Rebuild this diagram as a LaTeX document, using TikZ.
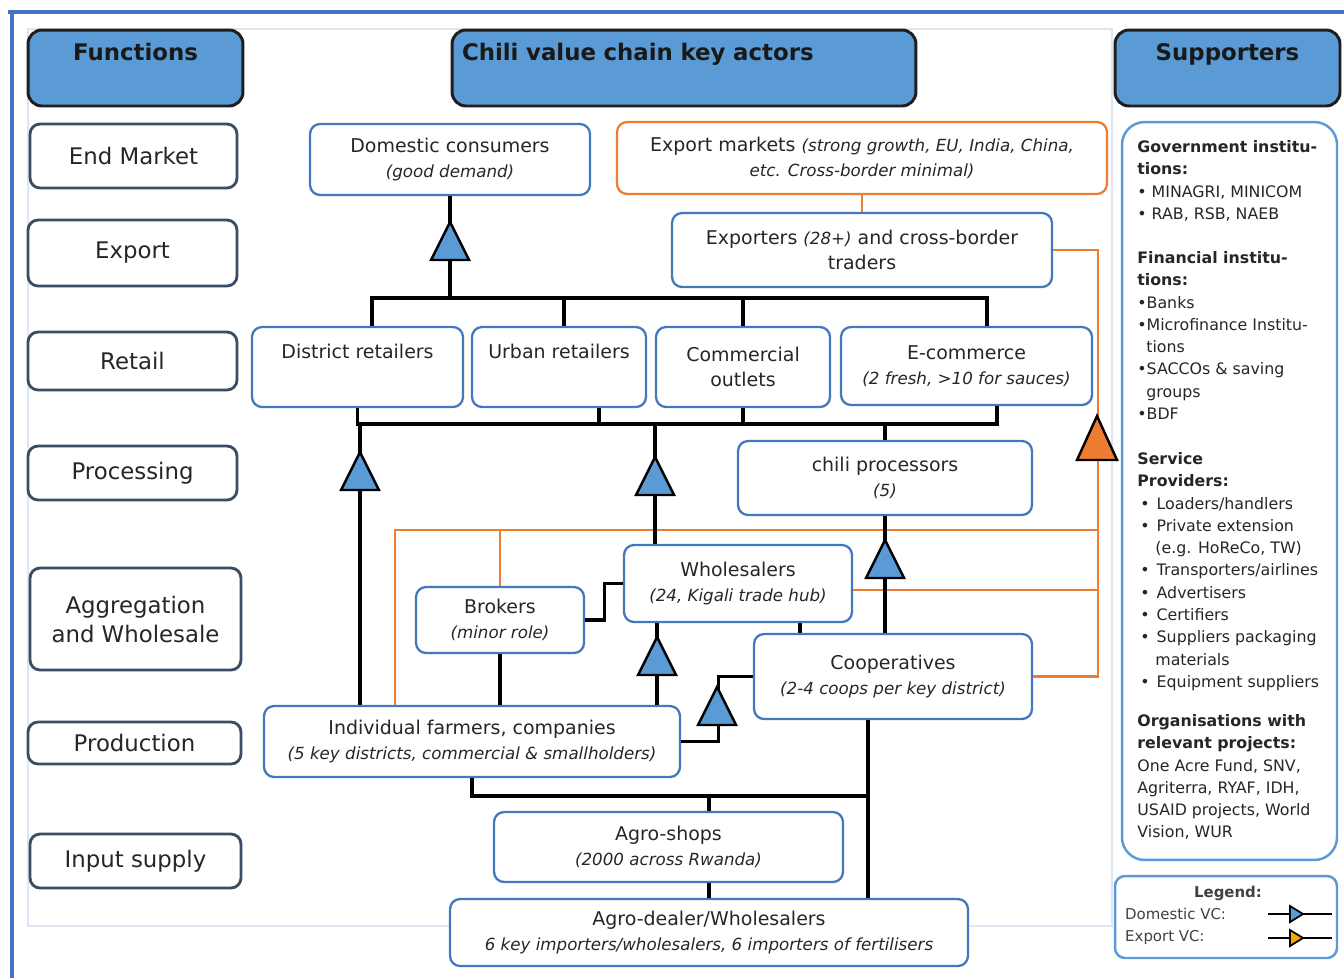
\documentclass[tikz,border=0pt]{standalone}
\usepackage{fontspec}
\setmainfont{DejaVu Sans}
\usepackage{xcolor}
\usepackage{tikz}
\usetikzlibrary{positioning,calc}
\definecolor{hdrfill}{HTML}{5B9BD5}
\definecolor{hdrline}{HTML}{1E1E1E}
\definecolor{fnline}{HTML}{3A4D66}
\definecolor{actline}{HTML}{4178BE}
\definecolor{expline}{HTML}{ED7D31}
\definecolor{trifill}{HTML}{5B9BD5}
\definecolor{suppline}{HTML}{5B9BD5}
\definecolor{framecol}{HTML}{4472C4}
\definecolor{faintcol}{HTML}{DDE6F2}
\definecolor{goldfill}{HTML}{F2A900}
\definecolor{txt}{HTML}{262626}
\newcommand{\actnote}[1]{{\fontsize{9.5}{14}\selectfont\itshape #1}}
\newcommand{\sbul}{\hspace*{0.06cm}•\hspace{0.14cm}}
\newcommand{\sind}{\hspace*{0.36cm}}

\begin{document}
\begin{tikzpicture}[x=0.02cm,y=-0.02cm,font=\fontsize{10.8}{14}\selectfont,text=txt,
  hdr/.style={draw=hdrline,fill=hdrfill,line width=1.7pt,rounded corners=0.28cm,minimum height=1.52cm,
    font=\fontsize{13}{15}\selectfont\bfseries,text=black!90,text height=9pt,text depth=17.6pt},
  fn/.style={draw=fnline,fill=white,line width=1.6pt,rounded corners=0.2cm,align=center,font=\fontsize{13}{16.5}\selectfont},
  act/.style={draw=actline,fill=white,line width=1.3pt,rounded corners=0.2cm,align=center},
  supbox/.style={draw=suppline,fill=white,line width=1.4pt,rounded corners=0.45cm},
  supt/.style={anchor=north west,align=left,inner sep=0pt,font=\fontsize{9}{12.7}\selectfont},
  legt/.style={font=\fontsize{8.5}{10}\selectfont,text=black!75},
  ln/.style={line width=1.8pt,black},
  orln/.style={line width=1.5pt,expline},
  tri/.style={draw=black,fill=trifill,line width=1.4pt,line join=miter},
  outerframe/.style={draw=framecol,line width=2pt},
  innerframe/.style={draw=faintcol,line width=0.6pt}]
\useasboundingbox (0,0) rectangle (1344,978);
\draw[outerframe] (8,12) -- (1344,12) (12,12) -- (12,978);
\draw[innerframe] (28,29) rectangle (1112,926);
\node[hdr,minimum width=4.3cm] (hfun) at (135.5,68) {Functions};
\node[hdr,text width=8.88cm,align=left,inner xsep=0.2cm] (hact) at (684,68) {Chili value chain key actors};
\node[hdr,minimum width=4.5cm] (hsup) at (1227.5,68) {Supporters};
\foreach \n/\t/\x/\y/\w/\h in {fem/{End Market}/133.5/156/4.14/1.28, fexp/{Export}/132.5/253/4.18/1.32,
  fret/{Retail}/132.5/361/4.18/1.16, fproc/{Processing}/132.5/473/4.18/1.08,
  fagg/{Aggregation\\and Wholesale}/135.5/619/4.22/2.04, fprod/{Production}/134.5/743/4.26/0.84,
  finp/{Input supply}/135.5/861/4.22/1.08}
  \node[fn,minimum width=\w cm,minimum height=\h cm] (\n) at (\x,\y) {\t};
\node[act,draw=expline,minimum width=9.8cm,minimum height=1.44cm] (expm) at (862,158)
  {Export markets \actnote{(strong growth, EU, India, China,}\\\actnote{etc. Cross-border minimal)}};
\foreach \n/\t/\x/\y/\w/\h in {dom/{Domestic consumers\\\actnote{(good demand)}}/450/159.5/5.6/1.42,
  expt/{Exporters \actnote{(28+)} and cross-border\\traders}/862/250/7.6/1.48,
  dret/{District retailers\\\strut}/357.5/367/4.22/1.6, uret/{Urban retailers\\\strut}/559/367/3.48/1.6,
  comm/{Commercial\\outlets}/743/367/3.48/1.6, ecom/{E-commerce\\\actnote{(2 fresh, >10 for sauces)}}/966.5/366/5.02/1.56,
  proc/{chili processors\\\actnote{(5)}}/885/478/5.88/1.48,
  whol/{Wholesalers\\\actnote{(24, Kigali trade hub)}}/738/583.5/4.56/1.54,
  brok/{Brokers\\\actnote{(minor role)}}/500/620/3.36/1.32,
  coop/{Cooperatives\\\actnote{(2-4 coops per key district)}}/893/676.5/5.56/1.7,
  farm/{Individual farmers, companies\\\actnote{(5 key districts, commercial \& smallholders)}}/472/741.5/8.32/1.42,
  shop/{Agro-shops\\\actnote{(2000 across Rwanda)}}/668.5/847/6.98/1.4,
  dealer/{Agro-dealer/Wholesalers\\\actnote{6 key importers/wholesalers, 6 importers of fertilisers}}/709/932.5/10.36/1.34}
  \node[act,minimum width=\w cm,minimum height=\h cm] (\n) at (\x,\y) {\t};
\node[supbox,minimum width=4.3cm,minimum height=14.76cm] (supp) at (1229.5,491) {};
\node[supt] (gov) at (1137,140) {\textbf{Government institu-}\\\textbf{tions:}\\• MINAGRI, MINICOM\\• RAB, RSB, NAEB};
\node[supt] (fin) at (1137,251) {\textbf{Financial institu-}\\\textbf{tions:}\\•Banks\\•Microfinance Institu-\\\hspace*{0.18cm}tions\\•SACCOs \& saving\\\hspace*{0.18cm}groups\\•BDF};
\node[supt] (serv) at (1137,452) {\textbf{Service}\\\textbf{Providers:}\\\sbul Loaders/handlers\\\sbul Private extension\\\sind(e.g. HoReCo, TW)\\\sbul Transporters/airlines\\\sbul Advertisers\\\sbul Certifiers\\\sbul Suppliers packaging\\\sind materials\\\sbul Equipment suppliers};
\node[supt] (org) at (1137,714) {\textbf{Organisations with}\\\textbf{relevant projects:}\\One Acre Fund, SNV,\\Agriterra, RYAF, IDH,\\USAID projects, World\\Vision, WUR};
\node[supbox,rounded corners=0.2cm,minimum width=4.44cm,minimum height=1.64cm] (leg) at (1226,917) {};
\node[legt,font=\fontsize{8.5}{10}\selectfont\bfseries] (legh) at (1228,893) {Legend:};
\node[legt,anchor=west] (ldom) at (1119,914) {Domestic VC:};
\node[legt,anchor=west] (lexp) at (1119,937) {Export VC:};
\coordinate (retTop) at (0,298);
\coordinate (retBot) at (0,424);
\coordinate (orA) at (0,530);
\coordinate (inBus) at (0,796);
\draw[orln] (expm.south) -- (expt.north);
\draw[orln] (expt.east) -- ++(45,0) coordinate (o1) -- (o1 |- coop.east) -- (coop.east);
\draw[orln] ([xshift=-1.54cm]farm.north) coordinate (f2) |- (o1 |- orA);
\draw[orln] (brok.north) -- (brok.north |- orA);
\draw[orln] ([yshift=-0.13cm]whol.east) coordinate (w4) -- (w4 -| o1);
\draw[ln] (dom.south) -- (dom.south |- retTop);
\draw[ln] ([xshift=0.29cm]dret.north) coordinate (d1) -- (d1 |- retTop) -| ([xshift=0.41cm]ecom.north);
\draw[ln] ([xshift=0.1cm]uret.north) coordinate (u1) -- (u1 |- retTop);
\draw[ln] (comm.north) -- (comm.north |- retTop);
\draw[ln] (dret.south) -- (dret.south |- retBot) -| ([xshift=0.61cm]ecom.south);
\draw[ln] ([xshift=0.8cm]uret.south) coordinate (u2) -- (u2 |- retBot);
\draw[ln] (comm.south) -- (comm.south |- retBot);
\draw[ln] (proc.north) -- (proc.north |- retBot);
\draw[ln] ([xshift=-2.24cm]farm.north) coordinate (f1) -- (f1 |- retBot);
\draw[ln] ([xshift=-1.66cm]whol.north) coordinate (w1) -- (w1 |- retBot);
\draw[ln] ([xshift=-1.62cm]whol.south) coordinate (w2) -- (w2 |- farm.north);
\draw[ln] (proc.south) -- (proc.south |- coop.north);
\draw[ln] (brok.east) -- ++(19,0) |- (whol.west);
\draw[ln] (brok.south) -- (brok.south |- farm.north);
\draw[ln] ([xshift=1.24cm]whol.south) coordinate (w3) -- (w3 |- coop.north);
\draw[ln] (farm.east) -- ++(37,0) |- (coop.west);
\draw[ln] ([xshift=-0.5cm]coop.south) coordinate (c1) -- (c1 |- dealer.north);
\draw[ln] (farm.south) |- (c1 |- inBus);
\draw[ln] (dealer.north |- inBus) -- (dealer.north |- shop.north);
\draw[ln] (dealer.north |- shop.south) -- (dealer.north);
\foreach \x/\y in {450/222,360/452,655/457,885/540,657/637,717/687}
  \filldraw[tri] (\x,\y) -- ++(-19,38) -- ++(38,0) -- cycle;
\filldraw[tri,fill=expline] (1097,416) -- ++(-20,44) -- ++(40,0) -- cycle;
\draw[ln,line width=1.2pt] (1268,914) -- (1332,914);
\filldraw[tri,line width=1pt] (1303,914) -- ++(-13,-8) -- ++(0,16) -- cycle;
\draw[ln,line width=1.2pt] (1268,938) -- (1332,938);
\filldraw[tri,fill=goldfill,line width=1pt] (1303,938) -- ++(-13,-8) -- ++(0,16) -- cycle;
\end{tikzpicture}
\end{document}
